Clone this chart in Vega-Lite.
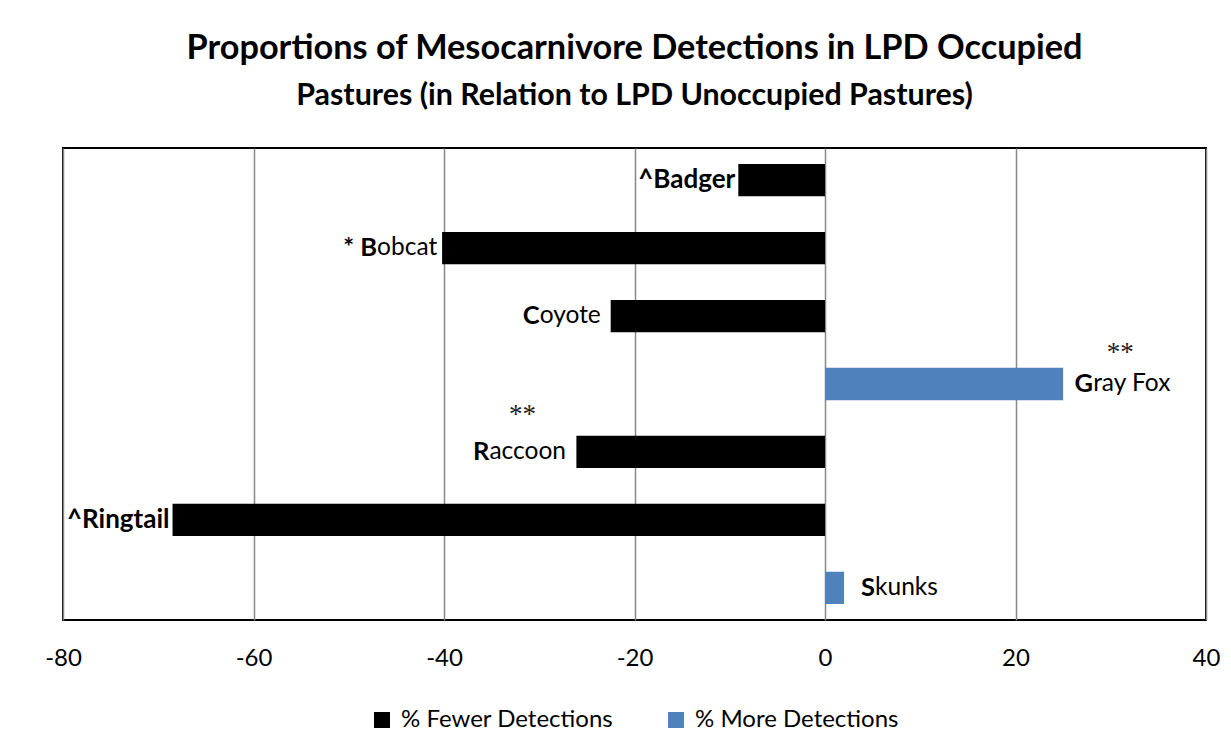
{
  "$schema": "https://vega.github.io/schema/vega-lite/v6.json",
  "width": 1143,
  "height": 472,
  "autosize": {"type": "none"},
  "padding": {"left": 63, "top": 148, "right": 25, "bottom": 135},
  "background": "white",
  "title": {
    "text": "Proportions of Mesocarnivore Detections in LPD Occupied",
    "subtitle": "Pastures (in Relation to LPD Unoccupied Pastures)",
    "font": "Lato", "fontSize": 34.3, "fontWeight": "bold", "color": "black",
    "subtitleFont": "Lato", "subtitleFontSize": 30.4, "subtitleFontWeight": "bold", "subtitleColor": "black",
    "subtitlePadding": 14, "offset": 37, "anchor": "middle"
  },
  "config": {
    "view": {"stroke": "black", "strokeWidth": 2},
    "legend": {"layout": {"bottom": {"anchor": "middle"}}}
  },
  "data": {
    "values": [
      {"species": "Badger", "value": -9.1, "series": "% Fewer Detections", "bold": "^Badger", "rest": "", "sig": ""},
      {"species": "Bobcat", "value": -40.2, "series": "% Fewer Detections", "bold": "* B", "rest": "obcat", "sig": ""},
      {"species": "Coyote", "value": -22.5, "series": "% Fewer Detections", "bold": "C", "rest": "oyote", "sig": ""},
      {"species": "Gray Fox", "value": 25, "series": "% More Detections", "bold": "G", "rest": "ray Fox", "sig": "**"},
      {"species": "Raccoon", "value": -26.1, "series": "% Fewer Detections", "bold": "R", "rest": "accoon", "sig": "**"},
      {"species": "Ringtail", "value": -68.5, "series": "% Fewer Detections", "bold": "^Ringtail", "rest": "", "sig": ""},
      {"species": "Skunks", "value": 2, "series": "% More Detections", "bold": "S", "rest": "kunks", "sig": ""}
    ]
  },
  "encoding": {
    "x": {
      "field": "value", "type": "quantitative",
      "scale": {"domain": [-80, 40], "nice": false, "zero": false},
      "axis": {
        "values": [-80, -60, -40, -20, 0, 20, 40], "grid": true, "gridColor": "#888888", "gridWidth": 1.5,
        "ticks": false, "domain": false, "labelFont": "Lato", "labelFontSize": 24, "labelColor": "black",
        "labelPadding": 26, "title": null, "labelFlush": false,
        "labelExpr": "'' + datum.value"
      }
    },
    "y": {
      "field": "species", "type": "nominal", "sort": null,
      "scale": {"paddingInner": 0.525, "paddingOuter": 0.235},
      "axis": null
    }
  },
  "layer": [
    {
      "mark": {"type": "bar"},
      "encoding": {
        "x2": {"datum": 0},
        "color": {
          "field": "series", "type": "nominal",
          "scale": {"domain": ["% Fewer Detections", "% More Detections"], "range": ["#000000", "#4f81bd"]},
          "legend": {
            "orient": "bottom", "title": null, "direction": "horizontal", "symbolType": "square",
            "symbolSize": 256, "symbolStrokeWidth": 0, "labelFont": "Lato", "labelFontSize": 24,
            "labelColor": "black", "labelOffset": 7, "columnPadding": 50, "offset": 38, "labelLimit": 400
          }
        }
      }
    },
    {
      "transform": [{"filter": "datum.rest === ''"}],
      "mark": {"type": "text", "align": "right", "baseline": "middle", "dx": -3, "font": "Lato", "fontSize": 26, "fontWeight": "bold", "color": "black"},
      "encoding": {"text": {"field": "bold"}}
    },
    {
      "transform": [{"filter": "datum.species === 'Bobcat'"}],
      "mark": {"type": "text", "align": "right", "baseline": "middle", "dx": -65, "font": "Lato", "fontSize": 25.5, "fontWeight": "bold", "color": "black"},
      "encoding": {"text": {"field": "bold"}}
    },
    {
      "transform": [{"filter": "datum.species === 'Bobcat'"}],
      "mark": {"type": "text", "align": "left", "baseline": "middle", "dx": -65, "font": "Lato", "fontSize": 24.5, "color": "black"},
      "encoding": {"text": {"field": "rest"}}
    },
    {
      "transform": [{"filter": "datum.species === 'Coyote'"}],
      "mark": {"type": "text", "align": "right", "baseline": "middle", "dx": -71, "font": "Lato", "fontSize": 25.5, "fontWeight": "bold", "color": "black"},
      "encoding": {"text": {"field": "bold"}}
    },
    {
      "transform": [{"filter": "datum.species === 'Coyote'"}],
      "mark": {"type": "text", "align": "left", "baseline": "middle", "dx": -71, "font": "Lato", "fontSize": 24.5, "color": "black"},
      "encoding": {"text": {"field": "rest"}}
    },
    {
      "transform": [{"filter": "datum.species === 'Raccoon'"}],
      "mark": {"type": "text", "align": "right", "baseline": "middle", "dx": -87, "font": "Lato", "fontSize": 25.5, "fontWeight": "bold", "color": "black"},
      "encoding": {"text": {"field": "bold"}}
    },
    {
      "transform": [{"filter": "datum.species === 'Raccoon'"}],
      "mark": {"type": "text", "align": "left", "baseline": "middle", "dx": -87, "font": "Lato", "fontSize": 24.5, "color": "black"},
      "encoding": {"text": {"field": "rest"}}
    },
    {
      "transform": [{"filter": "datum.species === 'Gray Fox'"}],
      "mark": {"type": "text", "align": "right", "baseline": "middle", "dx": 30, "font": "Lato", "fontSize": 25.5, "fontWeight": "bold", "color": "black"},
      "encoding": {"text": {"field": "bold"}}
    },
    {
      "transform": [{"filter": "datum.species === 'Gray Fox'"}],
      "mark": {"type": "text", "align": "left", "baseline": "middle", "dx": 30, "font": "Lato", "fontSize": 24.5, "color": "black"},
      "encoding": {"text": {"field": "rest"}}
    },
    {
      "transform": [{"filter": "datum.species === 'Skunks'"}],
      "mark": {"type": "text", "align": "right", "baseline": "middle", "dx": 31, "font": "Lato", "fontSize": 25.5, "fontWeight": "bold", "color": "black"},
      "encoding": {"text": {"field": "bold"}}
    },
    {
      "transform": [{"filter": "datum.species === 'Skunks'"}],
      "mark": {"type": "text", "align": "left", "baseline": "middle", "dx": 31, "font": "Lato", "fontSize": 24.5, "color": "black"},
      "encoding": {"text": {"field": "rest"}}
    },
    {
      "transform": [{"filter": "datum.species === 'Gray Fox'"}],
      "mark": {"type": "text", "align": "center", "baseline": "middle", "dx": 57, "dy": -31, "font": "Liberation Serif", "fontSize": 27, "color": "#222222"},
      "encoding": {"text": {"field": "sig"}}
    },
    {
      "transform": [{"filter": "datum.species === 'Raccoon'"}],
      "mark": {"type": "text", "align": "center", "baseline": "middle", "dx": -54, "dy": -37, "font": "Liberation Serif", "fontSize": 27, "color": "#222222"},
      "encoding": {"text": {"field": "sig"}}
    }
  ]
}
